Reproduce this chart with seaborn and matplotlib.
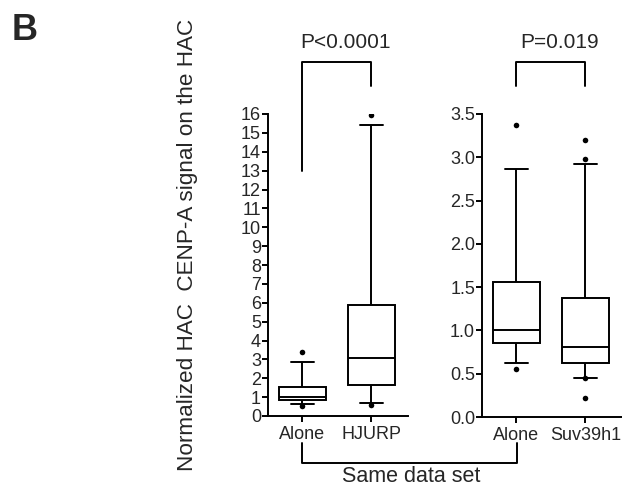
import pandas as pd
import matplotlib
matplotlib.use("Agg")
import matplotlib.pyplot as plt
import seaborn as sns

# five-number summaries (whisker low, Q1, median, Q3, whisker high)
alone_stats = [0.62, 0.86, 1.00, 1.56, 2.86]
hjurp_stats = [0.69, 1.62, 3.09, 5.87, 15.40]
suv_stats = [0.45, 0.62, 0.81, 1.38, 2.92]

# points drawn outside / at the whiskers
alone_out = [3.37, 0.55]
hjurp_out = [15.93, 0.58]
suv_out = [3.20, 2.98, 0.45, 0.22]

left_groups = ["Alone", "HJURP"]
right_groups = ["Alone", "Suv39h1"]
left_ticks = list(range(0, 17))
right_ticks = [0.0, 0.5, 1.0, 1.5, 2.0, 2.5, 3.0, 3.5]

left_df = pd.DataFrame({"group": ["Alone"] * 5 + ["HJURP"] * 5,
                        "value": alone_stats + hjurp_stats})
right_df = pd.DataFrame({"group": ["Alone"] * 5 + ["Suv39h1"] * 5,
                         "value": alone_stats + suv_stats})
left_pts = pd.DataFrame({"group": ["Alone"] * len(alone_out) + ["HJURP"] * len(hjurp_out),
                         "value": alone_out + hjurp_out})
right_pts = pd.DataFrame({"group": ["Alone"] * len(alone_out) + ["Suv39h1"] * len(suv_out),
                          "value": alone_out + suv_out})

sns.set_theme(style="ticks")
plt.rcParams["font.family"] = ["Liberation Sans", "DejaVu Sans"]

W, H = 622, 492
fig = plt.figure(figsize=(W / 100, H / 100), dpi=100)
ax1 = fig.add_axes([268 / W, 76 / H, 140 / W, 302 / H])
ax2 = fig.add_axes([482 / W, 75 / H, 140 / W, 303 / H])

box_kw = dict(x="group", y="value", whis=(0, 100), width=0.67, showfliers=False,
              color="white", linecolor="black", linewidth=1.4)

for ax, df, pts, order in [(ax1, left_df, left_pts, left_groups),
                           (ax2, right_df, right_pts, right_groups)]:
    sns.boxplot(data=df, order=order, ax=ax, **box_kw)
    sns.stripplot(data=pts, x="group", y="value", order=order, ax=ax,
                  jitter=False, color="black", size=4, zorder=5)
    ax.set_xlim(-0.5, 1.53)
    ax.set_xlabel("")
    ax.set_ylabel("")
    sns.despine(ax=ax)
    for s in ["left", "bottom"]:
        ax.spines[s].set_linewidth(1.4)
        ax.spines[s].set_color("black")
    ax.tick_params(axis="both", length=4, width=1.4, color="black",
                   labelsize=13, pad=1)
    ax.tick_params(axis="x", labelsize=13, pad=3)

ax1.set_ylim(0, 16)
ax1.set_yticks(left_ticks)
ax2.set_ylim(0, 3.5)
ax2.set_yticks(right_ticks)
ax2.set_yticklabels([f"{t:.1f}" for t in right_ticks])

# significance brackets
ax1.plot([0, 0, 1, 1], [13.0, 18.77, 18.77, 17.46], color="black", lw=1.4, clip_on=False)
ax1.text(0.62, 19.8, "P<0.0001", ha="center", va="center", fontsize=15)
ax2.plot([0, 0, 1, 1], [3.826, 4.106, 4.106, 3.826], color="black", lw=1.4, clip_on=False)
ax2.text(0.62, 4.33, "P=0.019", ha="center", va="center", fontsize=15)

# "Same data set" bracket below the axes
xs = [302 / W, 302 / W, 517 / W, 517 / W]
ys = [1 - 443 / H, 1 - 463 / H, 1 - 463 / H, 1 - 443 / H]
fig.add_artist(plt.Line2D(xs, ys, color="black", lw=1.4, transform=fig.transFigure))
fig.text(411 / W, 1 - 476 / H, "Same data set", ha="center", va="center", fontsize=15.5)

fig.text(188 / W, 0.5 * (1 - 20 / H) + 0.5 * (1 - 470 / H),
         "Normalized HAC  CENP-A signal on the HAC", rotation=90,
         ha="center", va="center", fontsize=16.2)
fig.text(12 / W, 1 - 30 / H, "B", fontsize=26, fontweight="bold", ha="left", va="center")

fig.savefig("out.png", dpi=100)
